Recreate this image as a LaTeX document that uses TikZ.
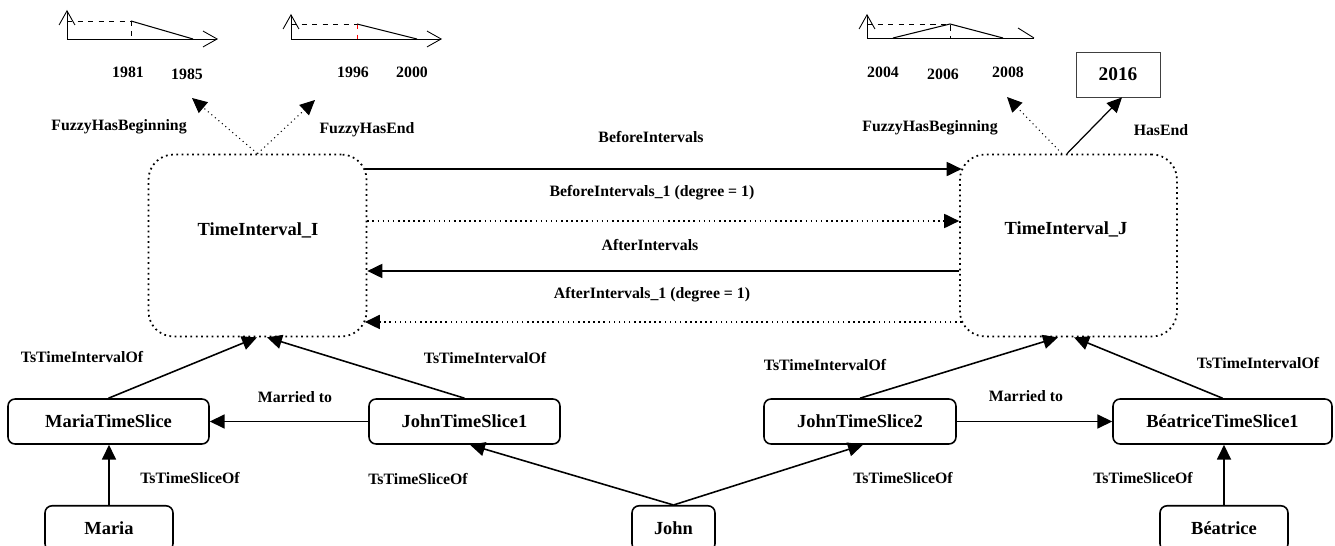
\documentclass[tikz,border=0pt]{standalone}
\usepackage{fontspec}
\setmainfont{Liberation Serif}
\usetikzlibrary{arrows.meta}

\begin{document}
\begin{tikzpicture}
[x=0.02cm,y=-0.02cm,
slice/.style={rectangle,rounded corners=4pt,draw=black,line width=0.9pt,minimum height=0.9cm,inner sep=0pt,font=\fontsize{10.5}{12}\selectfont\bfseries},
interval/.style={rectangle,rounded corners=0.5cm,draw=black,dotted,line width=1pt,minimum width=4.36cm,minimum height=3.64cm,inner sep=0pt},
lbl/.style={draw=none,inner sep=1pt,font=\fontsize{9}{10}\selectfont\bfseries},
big/.style={draw=none,inner sep=1pt,font=\fontsize{10.5}{12}\selectfont\bfseries},
rel/.style={line width=0.9pt,-{Triangle[length=8.5pt,width=8pt]}},
fuzzy/.style={line width=0.6pt,dotted,-{Triangle[length=8.5pt,width=8pt]}},
axis/.style={line width=0.5pt,-{Straight Barb[length=8pt,width=9pt]}}]
\useasboundingbox (0,0) rectangle (1335,546);

% fuzzy beginning of I
\draw[axis] (67,39) -- (67,10);
\draw[axis] (67,39) -- (218,39);
\draw[dashed,line width=0.5pt] (67,21) -- (131,21) -- (131,39);
\draw[line width=0.6pt] (131,21) -- (193,39);
\node[lbl] (y1981) at (128,72) {1981};
\node[lbl] (y1985) at (187,74) {1985};

% fuzzy end of I
\draw[axis] (291,39) -- (291,14);
\draw[axis] (291,39) -- (442,39);
\draw[dashed,line width=0.5pt] (291,24) -- (357,24);
\draw[dashed,red,line width=0.5pt] (357,24) -- (357,39);
\draw[line width=0.6pt] (357,24) -- (417,39);
\node[lbl] (y1996) at (353,72) {1996};
\node[lbl] (y2000) at (412,72) {2000};

% fuzzy beginning of J
\draw[axis] (867,38) -- (867,14);
\draw[line width=0.5pt] (867,38) -- (1034,38);
\draw[line width=0.5pt] (1018,28) -- (1034,38);
\draw[dashed,line width=0.5pt] (867,24) -- (950,24) -- (950,38);
\draw[line width=0.6pt] (893,38) -- (950,24) -- (1003,38);
\node[lbl] (y2004) at (883,72) {2004};
\node[lbl] (y2006) at (943,74) {2006};
\node[lbl] (y2008) at (1008,72) {2008};

\node[draw=black!75,line width=0.5pt,minimum width=1.68cm,minimum height=0.9cm,inner sep=0pt,font=\fontsize{11}{12}\selectfont\bfseries] (y2016) at (1118,74.5) {2016};

% the two intervals
\node[interval] (tiI) at (257.5,245.5) {};
\node[interval,minimum width=4.34cm] (tiJ) at (1068.5,245.5) {};
\node[big] (tiItxt) at (258,230) {TimeInterval\_I};
\node[big] (tiJtxt) at (1066,229) {TimeInterval\_J};

\coordinate (fbI) at (192,98);
\coordinate (feI) at (315,100);
\coordinate (fbJ) at (1007,97);
\draw[fuzzy] (tiI.north) -- (fbI);
\draw[fuzzy] (tiI.north) -- (feI);
\draw[fuzzy] ([xshift=-0.13cm]tiJ.north) -- (fbJ);
\draw[line width=0.7pt,-{Triangle[length=8.5pt,width=8pt]}] ([xshift=-0.03cm]tiJ.north) -- ([xshift=0.08cm]y2016.south);
\node[lbl] (fhbI) at (119,127) {FuzzyHasBeginning};
\node[lbl] (fheI) at (367,130) {FuzzyHasEnd};
\node[lbl] (fhbJ) at (930,128) {FuzzyHasBeginning};
\node[lbl] (heJ) at (1161,130) {HasEnd};

% relations between intervals
\draw[rel] ([xshift=-0.05cm,yshift=1.53cm]tiI.east) -- ([xshift=0.05cm,yshift=1.53cm]tiJ.west);
\draw[rel,dotted] ([yshift=0.49cm]tiI.east) -- ([yshift=0.49cm]tiJ.west);
\draw[rel] ([yshift=-0.51cm]tiJ.west) -- ([yshift=-0.51cm]tiI.east);
\draw[rel,dotted] ([xshift=0.05cm,yshift=-1.53cm]tiJ.west) -- ([xshift=-0.05cm,yshift=-1.53cm]tiI.east);
\node[lbl] (bef) at (651,137) {BeforeIntervals};
\node[lbl] (befa) at (652,193) {BeforeIntervals\_1 (degree = 1)};
\node[lbl] (aft) at (650,245) {AfterIntervals};
\node[lbl] (afta) at (652,295) {AfterIntervals\_1 (degree = 1)};

% time slices
\node[slice,minimum width=4.02cm] (mts) at (108.5,421.5) {MariaTimeSlice};
\node[slice,minimum width=3.82cm] (jts1) at (464.5,421.5) {JohnTimeSlice1};
\node[slice,minimum width=3.84cm] (jts2) at (860,421.5) {JohnTimeSlice2};
\node[slice,minimum width=4.38cm] (bts1) at (1222.5,421.5) {BéatriceTimeSlice1};

% persons
\node[slice,anchor=north,minimum width=2.56cm] (maria) at (109,505) {Maria};
\node[slice,anchor=north,minimum width=1.66cm] (john) at (673.5,505) {John};
\node[slice,anchor=north,minimum width=2.56cm] (beatrice) at (1224,505) {Béatrice};

\draw[rel] (mts.north) -- ([xshift=-0.01cm]tiI.south);
\draw[rel] (jts1.north) -- ([xshift=0.19cm]tiI.south);
\draw[rel] (jts2.north) -- ([xshift=-0.21cm]tiJ.south);
\draw[rel] (bts1.north) -- ([xshift=0.11cm]tiJ.south);
\draw[rel] (jts1.west) -- (mts.east);
\draw[rel] (jts2.east) -- (bts1.west);
\draw[rel] (maria.north) -- (maria.north |- mts.south);
\draw[rel] (beatrice.north) -- (beatrice.north |- bts1.south);
\draw[rel] (john.north) -- ([xshift=0.11cm]jts1.south);
\draw[rel] (john.north) -- ([xshift=0.06cm]jts2.south);

\node[lbl] (tioM) at (82,357) {TsTimeIntervalOf};
\node[lbl] (tioJa) at (485,358) {TsTimeIntervalOf};
\node[lbl] (tioJb) at (825,365) {TsTimeIntervalOf};
\node[lbl] (tioB) at (1258,363) {TsTimeIntervalOf};
\node[lbl] (marA) at (295,397) {Married to};
\node[lbl] (marB) at (1026,396) {Married to};
\node[lbl] (tsoM) at (190,478) {TsTimeSliceOf};
\node[lbl] (tsoJa) at (418,479) {TsTimeSliceOf};
\node[lbl] (tsoJb) at (903,478) {TsTimeSliceOf};
\node[lbl] (tsoB) at (1143,478) {TsTimeSliceOf};

\end{tikzpicture}
\end{document}
